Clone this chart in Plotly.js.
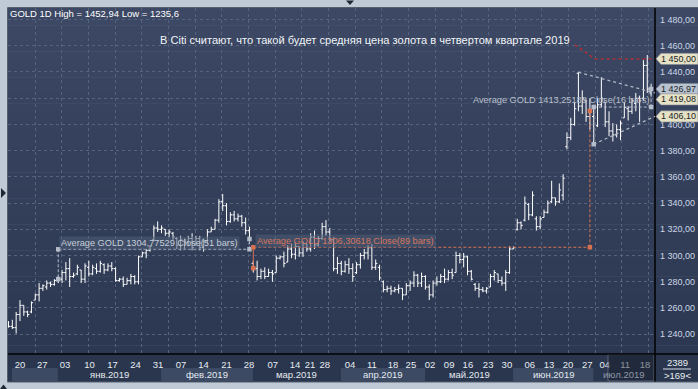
<!DOCTYPE html>
<html><head><meta charset="utf-8">
<script src="https://cdn.plot.ly/plotly-3.0.1.min.js"></script>
<style>html,body{margin:0;padding:0;background:#bfcad6;}#chart{width:698px;height:389px;}</style>
</head><body><div id="chart"></div>
<script>
// ---------------- DATA ----------------
const openP = [1247,1246,1245,1255,1262,1257,1257,1266,1270,1275,
1276,1279,1278,1281,1282,1287,1290,1284,1286,1289,
1282,1291,1286,1290,1288,1293,1289,1292,1290,1281,
1282,1278,1281,1284,1280,1299,1302,1304,1312,1321,
1320,1320,1317,1317,1313,1308,1311,1310,1313,1308,
1313,1306,1311,1318,1320,1327,1341,1338,1326,1331,
1328,1330,1325,1319,1294,1290,1284,1288,1284,1287,
1287,1298,1299,1295,1305,1301,1307,1302,1309,1305,
1314,1308,1313,1322,1318,1312,1290,1294,1288,1293,
1290,1287,1293,1300,1302,1306,1291,1291,1280,1274,
1275,1273,1274,1275,1270,1277,1279,1285,1279,1284,
1276,1270,1279,1280,1284,1282,1287,1287,1300,1297,
1299,1288,1278,1275,1274,1273,1276,1284,1286,1281,
1279,1287,1305,1320,1325,1327,1339,1331,1328,1322,
1329,1333,1341,1344,1341,1346,1383,1390,1400,1439,
1414,1418,1406,1406,1399,1415,1417,1402,1395,1392,
1396,1405,1412,1410,1416,1420,1420,1445,1424];
const highP = [1250,1251,1257,1266,1262,1258,1265,1271,1279,1278,
1281,1280,1282,1284,1289,1295,1298,1287,1293,1289,
1294,1296,1293,1294,1296,1294,1294,1295,1291,1283,
1284,1283,1286,1285,1300,1303,1305,1308,1323,1326,
1323,1320,1320,1318,1314,1315,1313,1315,1317,1315,
1315,1313,1320,1322,1328,1343,1347,1340,1333,1334,
1332,1331,1329,1322,1296,1296,1290,1291,1290,1289,
1300,1300,1303,1308,1309,1310,1307,1311,1309,1317,
1319,1315,1325,1327,1321,1314,1299,1296,1296,1298,
1294,1295,1302,1305,1308,1309,1297,1293,1281,1277,
1277,1276,1278,1275,1279,1281,1288,1286,1287,1285,
1278,1281,1284,1286,1290,1289,1290,1303,1302,1302,
1300,1289,1279,1279,1276,1276,1286,1289,1286,1284,
1289,1307,1307,1328,1326,1345,1340,1349,1330,1330,
1335,1342,1357,1344,1355,1362,1394,1405,1417,1440,
1426,1419,1420,1415,1420,1436,1417,1410,1401,1400,
1403,1417,1414,1420,1424,1422,1449,1452.94,1431];
const lowP = [1245,1244,1240.5,1250,1254,1253,1256,1266,1265,1273,
1274,1276,1277,1279,1279,1281,1276,1283,1285,1279,
1279,1284,1285,1286,1287,1286,1288,1288,1280,1280,
1276,1278,1278,1278,1278,1299,1298,1303,1311,1318,
1317,1315,1314,1312,1305,1304,1305,1307,1304,1308,
1304,1303,1309,1318,1320,1325,1334,1323,1325,1326,
1326,1322,1316,1311,1287,1281,1282,1282,1284,1280,
1287,1297,1291,1295,1298,1297,1299,1299,1303,1303,
1305,1307,1312,1315,1310,1288,1286,1285,1287,1286,
1280,1286,1290,1297,1297,1289,1289,1281,1272,1272,
1270,1272,1271,1266,1270,1273,1276,1276,1276,1274,
1266,1268,1277,1279,1279,1281,1282,1287,1294,1291,
1285,1281,1273,1268,1272,1271,1276,1281,1279,1277,
1273,1286,1305,1319,1320,1326,1327,1330,1319,1320,
1329,1332,1340,1338,1340,1342,1381,1388,1399,1410,
1408,1402,1396,1384,1398,1413,1398,1391,1387,1390,
1388,1405,1403,1408,1410,1402,1418,1424,1422];
const closeP = [1246,1245,1255,1262,1257,1255,1264,1270,1275,1277,
1279,1278,1281,1282,1287,1290,1284,1285,1291,1282,
1292,1286,1291,1288,1294,1289,1292,1290,1281,1282,
1278,1281,1284,1280,1299,1302,1304,1307,1321,1320,
1321,1317,1318,1314,1308,1312,1310,1313,1306,1313,
1306,1311,1318,1320,1327,1341,1338,1326,1331,1328,
1330,1325,1319,1312.6,1290.3,1284,1288,1284,1287,1286,
1298,1299,1294,1305,1301,1307,1302,1309,1305,1314,
1308,1313,1322,1318,1312,1290,1294,1288,1293,1290,
1284,1293,1300,1302,1306,1291,1294,1283,1274,1275,
1273,1274,1275,1270,1277,1279,1285,1279,1284,1276,
1270,1279,1280,1284,1282,1287,1285,1300,1297,1299,
1288,1282,1275,1274,1273,1275,1284,1287,1281,1279,
1287,1305,1306,1325,1323,1340,1331,1346,1322,1328,
1333,1340,1344,1341,1350,1359,1390,1400,1412,1414,
1420,1406,1410.3,1384.9,1415,1420,1402,1395,1392,1396,
1401,1413,1410,1418,1420,1418,1445,1427,1427];

const dateTickBars = [3,8.8,14.8,21.2,27.2,33.2,39.1,45.1,51,57,62.9,69.1,74.9,78.8,82.7,89.3,95,100.5,105.2,110.2,115.2,120.1,125.4,130.3,136.3,141.3,146.3,151.3,155.9,161.2,166.4];
const dateTickText = ["20","27","03","10","17","24","31","07","14","21","28","07","14","21","28","04","11","18","25","02","09","16","23","30","06","13","20","27","04","11","18"];
const monthNames = ["","янв.2019","фев.2019","мар.2019","апр.2019","май.2019","июн.2019","июл.2019"];
const monthFirstBar = [1,13,40,64,87,109,132,153];

const priceTicks = [1240,1260,1280,1300,1320,1340,1360,1380,1400,1420,1440,1460,1480];
const hiddenPriceTicks = [1420];   // covered by the price tags in the original

const avgValues = [1304.77529, 1306.30618, 1413.25188];
const avgStart = [13, 64, 153];
const avgEnd = [63, 152, 168];
const avgBars = [51, 89, 16];

const upperTrendBars = [149, 169], upperTrendPrices = [1439.8, 1424];
const lowerTrendBars = [153, 169], lowerTrendPrices = [1384.9, 1406.1];
const forecastBars = [148.1, 153.3, 169.2], forecastPrices = [1460.6, 1450, 1450];

const tagValues = [1450.00, 1426.97, 1419.08, 1406.10];
const tagKinds = ["line","last","line","line"];

const headerText = "GOLD 1D High = 1452,94 Low = 1235,6";
const noteText = "В Citi считают, что такой будет средняя цена золота в четвертом квартале 2019";
const totalBars = "2389", shownBars = ">169<";

// ---------------- HELPERS ----------------
const W = 698, H = 389, ML = 8, MT = 8, PW = 647, PH = 346;
const px = x => (x - ML) / PW;
const py = y => (MT + PH - y) / PH;
const fmt = v => { const s = v.toFixed(2).replace('.', ','); const [a,b]=s.split(','); return a.replace(/\B(?=(\d{3})+(?!\d))/g,' ') + ',' + b; };
const fmtAvg = v => String(v).replace('.', ',');
const FONT = '"Liberation Sans", Arial, sans-serif';
const barIdx = closeP.map((_, i) => i);

const shapes = [];
const annotations = [];

// background gradient (plot + right scale)
const bands = 40, gTop = [60,72,100], gBot = [44,56,81];
for (let k = 0; k < bands; k++) {
  const t = k / (bands - 1);
  const c = gTop.map((v, j) => Math.round(v + (gBot[j] - v) * t));
  shapes.push({type:'rect', xref:'paper', yref:'paper', layer:'below',
    x0: px(8), x1: px(698), y0: py(8 + PH * (k + 1) / bands + 0.5), y1: py(8 + PH * k / bands),
    fillcolor:`rgb(${c.join(',')})`, line:{width:0}});
}
// bottom scale panel
shapes.push({type:'rect', xref:'paper', yref:'paper', layer:'below', x0:px(8), x1:px(698), y0:py(382), y1:py(354), fillcolor:'#2a364d', line:{width:0}});
// month boxes
for (let m = 0; m < monthFirstBar.length; m++) {
  const a = monthFirstBar[m] - 0.1, b = (m + 1 < monthFirstBar.length ? monthFirstBar[m + 1] : 169.02) - 0.1;
  if (m % 2 === 0) shapes.push({type:'rect', xref:'x', yref:'paper', layer:'below', x0:a, x1:Math.min(b,169.02), y0:py(381), y1:py(368), fillcolor:'#3c4a64', line:{width:0}});
  if (monthNames[m]) annotations.push({xref:'x', yref:'paper', x:(a + Math.min(b,169)) / 2, y:py(374.5), text:monthNames[m], showarrow:false,
    font:{family:FONT, size:9.5, color: m === monthFirstBar.length - 1 ? '#8f99a8' : '#e4eaf0'}, xanchor:'center', yanchor:'middle'});
}
// last partial month overlay
shapes.push({type:'rect', xref:'paper', yref:'paper', x0:px(608), x1:px(654), y0:py(381), y1:py(354.5), fillcolor:'rgba(22,28,40,0.45)', line:{color:'rgba(140,150,165,0.5)', width:1}});
// separators
shapes.push({type:'line', xref:'paper', yref:'paper', x0:px(655), x1:px(655), y0:py(8), y1:py(382), line:{color:'#000', width:1.5}});
shapes.push({type:'line', xref:'paper', yref:'paper', x0:px(8), x1:px(698), y0:py(354), y1:py(354), line:{color:'#000', width:1.5}});
// outer frame
shapes.push({type:'line', xref:'paper', yref:'paper', x0:px(7.5), x1:px(7.5), y0:py(7.5), y1:py(382), line:{color:'#55606e', width:1}});
shapes.push({type:'line', xref:'paper', yref:'paper', x0:px(7.5), x1:px(698), y0:py(7.5), y1:py(7.5), line:{color:'#55606e', width:1}});
shapes.push({type:'line', xref:'paper', yref:'paper', x0:px(7.5), x1:px(698), y0:py(382), y1:py(382), line:{color:'#55606e', width:1}});
// bar count separator
shapes.push({type:'line', xref:'paper', yref:'paper', x0:px(663), x1:px(691), y0:py(369), y1:py(369), line:{color:'#d8e0ea', width:1}});
// little triangles on frame
const tri = (pts) => 'M' + pts.map(p => px(p[0]) + ',' + py(p[1])).join(' L') + ' Z';
shapes.push({type:'path', xref:'paper', yref:'paper', path:tri([[346,0.5],[354,0.5],[350,5]]), fillcolor:'#1e2734', line:{width:0}});
shapes.push({type:'path', xref:'paper', yref:'paper', path:tri([[1,188],[1,198],[6,193]]), fillcolor:'#1e2734', line:{width:0}});
shapes.push({type:'path', xref:'paper', yref:'paper', path:tri([[0,389],[7,389],[3.5,384.5]]), fillcolor:'#1e2734', line:{width:0}});

// averages
const avgColors = ['#b4bdc9', '#d8714f', '#b4bdc9'];
const avgText = ['#c6ceda', '#d7765c', '#b8c0cc'];
const markerX = [], markerY = [], markerC = [];
for (let k = 0; k < avgValues.length; k++) {
  const c = avgColors[k], s = avgStart[k], e = avgEnd[k], v = avgValues[k];
  shapes.push({type:'line', xref:'x', yref:'y', x0:s, x1:e, y0:v, y1:v, line:{color:c, width:1, dash:'3px,2px'}});
  shapes.push({type:'line', xref:'x', yref:'y', x0:s, x1:s, y0:v, y1:closeP[s], line:{color:c, width:1, dash: k===1?'solid':'3px,2px'}});
  shapes.push({type:'line', xref:'x', yref:'y', x0:e, x1:e, y0:v, y1:closeP[e], line:{color:c, width:1, dash:'3px,2px'}});
  [[s,v],[s,closeP[s]],[e,v],[e,closeP[e]]].forEach(p => { markerX.push(p[0]); markerY.push(p[1]); markerC.push(c); });
}
annotations.push({xref:'x', yref:'y', x:13.2, y:1309.6, xanchor:'left', yanchor:'middle', showarrow:false,
  text:`Average GOLD ${fmtAvg(avgValues[0])} Close(${avgBars[0]} bars)`, bgcolor:'rgba(78,92,118,0.55)', borderpad:1,
  font:{family:FONT, size:9.2, color:avgText[0]}});
annotations.push({xref:'x', yref:'y', x:64.4, y:1311.2, xanchor:'left', yanchor:'middle', showarrow:false,
  text:`Average GOLD ${fmtAvg(avgValues[1])} Close(${avgBars[1]} bars)`, bgcolor:'rgba(78,92,118,0.55)', borderpad:1,
  font:{family:FONT, size:9.2, color:avgText[1]}});
annotations.push({xref:'x', yref:'y', x:168.3, y:1418.7, xanchor:'right', yanchor:'middle', showarrow:false,
  text:`Average GOLD ${fmtAvg(avgValues[2])} Close(${avgBars[2]} bars)`, borderpad:1,
  font:{family:FONT, size:9.2, color:avgText[2]}});

// trend lines
shapes.push({type:'line', xref:'x', yref:'y', x0:upperTrendBars[0], x1:upperTrendBars[1], y0:upperTrendPrices[0], y1:upperTrendPrices[1], line:{color:'#b0b8c4', width:1.3, dash:'dot'}});
shapes.push({type:'line', xref:'x', yref:'y', x0:lowerTrendBars[0], x1:lowerTrendBars[1], y0:lowerTrendPrices[0], y1:lowerTrendPrices[1], line:{color:'#b0b8c4', width:1.3, dash:'dot'}});

// price tags on the right scale
const tagH = 5.6 / 1.311;
tagValues.forEach((v, k) => {
  const fill = tagKinds[k] === 'last' ? '#b9c3d0' : '#e6e2c6';
  const p = `M${px(656)},${v} L${px(661)},${v + tagH} L${px(698)},${v + tagH} L${px(698)},${v - tagH} L${px(661)},${v - tagH} Z`;
  shapes.push({type:'path', xref:'paper', yref:'y', path:p, fillcolor:fill, line:{color:'#7d8594', width:0.6}});
  annotations.push({xref:'paper', yref:'y', x:px(659.5), y:v, xanchor:'left', yanchor:'middle', showarrow:false,
    text:fmt(v), font:{family:FONT, size:9, color:'#1b1f27'}});
});

// note text
annotations.push({xref:'x', yref:'y', x:93.3, y:1464.4, xanchor:'center', yanchor:'middle', showarrow:false,
  text:noteText, font:{family:FONT, size:11.1, color:'#f2f5f8'}});
// bar counts
annotations.push({xref:'paper', yref:'paper', x:px(677), y:py(362), showarrow:false, text:totalBars, font:{family:FONT, size:9.5, color:'#e8eef4'}, xanchor:'center', yanchor:'middle'});
annotations.push({xref:'paper', yref:'paper', x:px(677), y:py(376), showarrow:false, text:shownBars, font:{family:FONT, size:9.5, color:'#e8eef4'}, xanchor:'center', yanchor:'middle'});

const traces = [
  {type:'ohlc', x:barIdx, open:openP, high:highP, low:lowP, close:closeP,
   increasing:{line:{color:'#ffffff', width:1}}, decreasing:{line:{color:'#ffffff', width:1}},
   tickwidth:0.45, hoverinfo:'skip', showlegend:false},
  {type:'scatter', mode:'lines', x:forecastBars, y:forecastPrices, line:{color:'#c42a2c', width:1.3, dash:'dot'}, hoverinfo:'skip', showlegend:false},
  {type:'scatter', mode:'markers', x:markerX, y:markerY, marker:{symbol:'square', size:4.5, color:markerC, line:{width:0}}, hoverinfo:'skip', showlegend:false, cliponaxis:false}
];

const layout = {
  width: W, height: H,
  margin: {l: ML, r: W - ML - PW, t: MT, b: H - MT - PH, pad: 0},
  paper_bgcolor: '#bfcad6', plot_bgcolor: 'rgba(0,0,0,0)',
  showlegend: false,
  title: {text: headerText, x: 10 / W, xanchor: 'left', y: 1 - 14 / H, yanchor: 'middle', xref: 'container', yref: 'container',
          font: {family: FONT, size: 9.5, color: '#ffffff'}},
  xaxis: {range: [-0.13, 169.02], tickmode: 'array', tickvals: dateTickBars, ticktext: dateTickText,
          showgrid: false, zeroline: false, showline: false, ticks: '', rangeslider: {visible: false},
          tickfont: {family: FONT, size: 9.5, color: '#e6ecf2'}, ticklabelstandoff: 3, fixedrange: true,
          minor: {tickmode: 'linear', tick0: 0, dtick: 6.972, showgrid: true, gridcolor: '#56637c', griddash: '3px,3px', gridwidth: 1, ticks: ''}},
  yaxis: {range: [1224.9, 1488.8], side: 'right', tickmode: 'array', tickvals: priceTicks,
          ticktext: priceTicks.map(v => hiddenPriceTicks.includes(v) ? '' : fmt(v)),
          showgrid: true, gridcolor: '#56637c', griddash: '3px,3px', gridwidth: 1, zeroline: false, showline: false, ticks: '',
          tickfont: {family: FONT, size: 9, color: '#ccd8e8'}, ticklabelstandoff: 4, fixedrange: true},
  shapes: shapes,
  annotations: annotations
};

Plotly.newPlot('chart', traces, layout, {staticPlot: true, displayModeBar: false});
</script>
</body></html>
